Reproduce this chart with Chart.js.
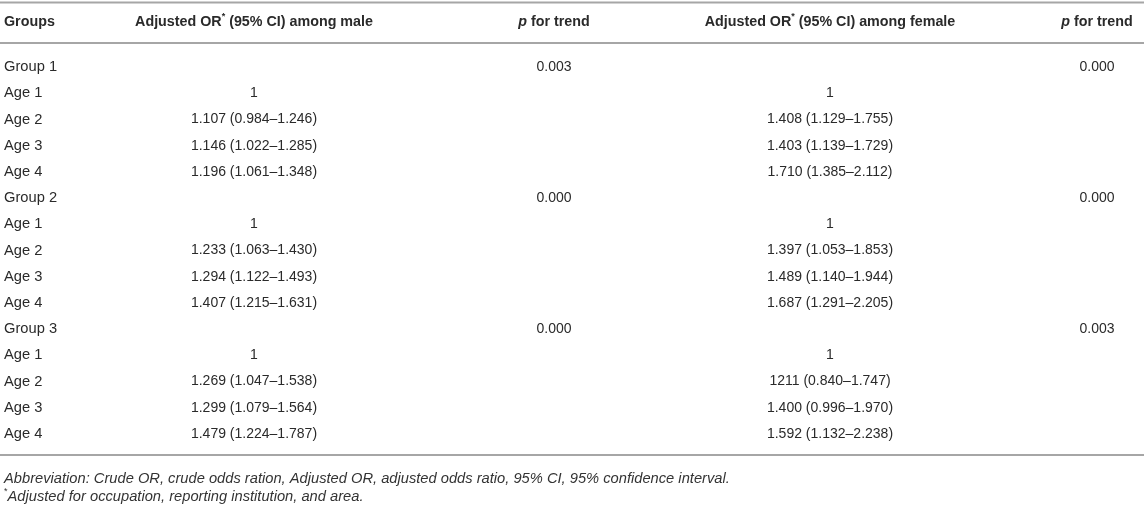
<!DOCTYPE html>
<html>
<head>
<meta charset="utf-8">
<script src="https://cdn.jsdelivr.net/npm/chart.js@4.4.0/dist/chart.umd.min.js"></script>
<style>
  html, body { margin: 0; padding: 0; background: #fff; }
  #wrap { width: 1144px; height: 505px; }
</style>
</head>
<body>
<div id="wrap"><canvas id="oddsTable" width="1144" height="505"></canvas></div>
<script>
// table content
const rowLabels = ['Group 1', 'Age 1', 'Age 2', 'Age 3', 'Age 4',
                   'Group 2', 'Age 1', 'Age 2', 'Age 3', 'Age 4',
                   'Group 3', 'Age 1', 'Age 2', 'Age 3', 'Age 4'];
const maleOR = ['', '1', '1.107 (0.984–1.246)', '1.146 (1.022–1.285)', '1.196 (1.061–1.348)',
                '', '1', '1.233 (1.063–1.430)', '1.294 (1.122–1.493)', '1.407 (1.215–1.631)',
                '', '1', '1.269 (1.047–1.538)', '1.299 (1.079–1.564)', '1.479 (1.224–1.787)'];
const maleTrend = ['0.003', '', '', '', '', '0.000', '', '', '', '', '0.000', '', '', '', ''];
const femaleOR = ['', '1', '1.408 (1.129–1.755)', '1.403 (1.139–1.729)', '1.710 (1.385–2.112)',
                  '', '1', '1.397 (1.053–1.853)', '1.489 (1.140–1.944)', '1.687 (1.291–2.205)',
                  '', '1', '1211 (0.840–1.747)', '1.400 (0.996–1.970)', '1.592 (1.132–2.238)'];
const femaleTrend = ['0.000', '', '', '', '', '0.000', '', '', '', '', '0.003', '', '', '', ''];
const columnHeaders = ['Groups', 'Adjusted OR* (95% CI) among male', 'p for trend',
                       'Adjusted OR* (95% CI) among female', 'p for trend'];
const footnotes = ['Abbreviation: Crude OR, crude odds ration, Adjusted OR, adjusted odds ratio, 95% CI, 95% confidence interval.',
                   '*Adjusted for occupation, reporting institution, and area.'];

// where each column sits on the x scale (0..1144) and how it is aligned
const colPos = [4, 254, 554, 830, 1097];
const colAlign = ['left', 'center', 'center', 'center', 'center'];
const colFont = ['14.7px', '14px', '14px', '14px', '14px'];
const columns = [rowLabels, maleOR, maleTrend, femaleOR, femaleTrend];

const FAM = '"Liberation Sans", Arial, Helvetica, sans-serif';
const TEXT = '#2a2a2a';
const RULE = '#a6a6a6';

// splits a header / footnote into pieces with their own fonts
function richPieces(str, base, bold) {
    const w = bold ? 'bold ' : '';
    const out = [];
    if (str.startsWith('p ')) {
        out.push({ t: 'p', f: 'italic ' + base });
        str = str.slice(1);
    }
    const star = str.indexOf('*');
    if (star >= 0) {
        if (star > 0) out.push({ t: str.slice(0, star), f: base });
        out.push({ t: '*', f: w + '9px ' + FAM, dy: -5 });
        if (star < str.length - 1) out.push({ t: str.slice(star + 1), f: base });
    } else {
        out.push({ t: str, f: base });
    }
    return out;
}

function drawPieces(ctx, pieces, x, y, align) {
    let total = 0;
    pieces.forEach(p => { ctx.font = p.f; p.w = ctx.measureText(p.t).width; total += p.w; });
    let cx = align === 'center' ? x - total / 2 : x;
    ctx.textAlign = 'left';
    pieces.forEach(p => {
        ctx.font = p.f;
        ctx.fillText(p.t, cx, y + (p.dy || 0));
        cx += p.w;
    });
}

const tablePlugin = {
    id: 'tableText',
    afterDatasetsDraw(chart) {
        const { ctx, chartArea, scales } = chart;
        const W = chart.width;
        ctx.save();

        // horizontal rules
        ctx.strokeStyle = RULE;
        ctx.lineWidth = 2;
        const rules = [2.5, chartArea.top - 11, chartArea.bottom + 8];
        rules.forEach(ry => {
            ctx.beginPath();
            ctx.moveTo(0, ry);
            ctx.lineTo(W, ry);
            ctx.stroke();
        });

        ctx.fillStyle = TEXT;
        ctx.textBaseline = 'middle';

        // header row
        const headY = chartArea.top - 32;
        columnHeaders.forEach((h, c) => {
            const hx = scales.x.getPixelForValue(colPos[c]);
            drawPieces(ctx, richPieces(h, 'bold 14.3px ' + FAM, true), hx, headY, colAlign[c]);
        });

        // body cells, placed at the points of each dataset
        chart.data.datasets.forEach((ds, di) => {
            const meta = chart.getDatasetMeta(di);
            ctx.font = colFont[di] + ' ' + FAM;
            ctx.textAlign = colAlign[di];
            meta.data.forEach((pt, i) => {
                const txt = ds.cellText[i];
                if (txt) ctx.fillText(txt, pt.x, pt.y);
            });
        });

        // footnotes
        ctx.fillStyle = '#333';
        footnotes.forEach((f, k) => {
            drawPieces(ctx, richPieces(f, 'italic 14.7px ' + FAM, false), 4, chartArea.bottom + 32 + k * 18, 'left');
        });

        ctx.restore();
    }
};

const ctx = document.getElementById('oddsTable').getContext('2d');
const tableChart = new Chart(ctx, {
    type: 'scatter',
    data: {
        datasets: columns.map((col, c) => ({
            label: columnHeaders[c],
            cellText: col,
            data: col.map((_, i) => ({ x: colPos[c], y: i })),
            pointRadius: 0,
            pointHoverRadius: 0
        }))
    },
    options: {
        responsive: false,
        animation: false,
        events: [],
        layout: { padding: { top: 54, bottom: 58, left: 0, right: 0 } },
        plugins: { legend: { display: false }, tooltip: { enabled: false } },
        scales: {
            x: { type: 'linear', display: false, min: 0, max: 1144 },
            y: { type: 'linear', display: false, reverse: true, min: -0.5, max: rowLabels.length - 0.5 }
        }
    },
    plugins: [tablePlugin]
});
</script>
</body>
</html>
